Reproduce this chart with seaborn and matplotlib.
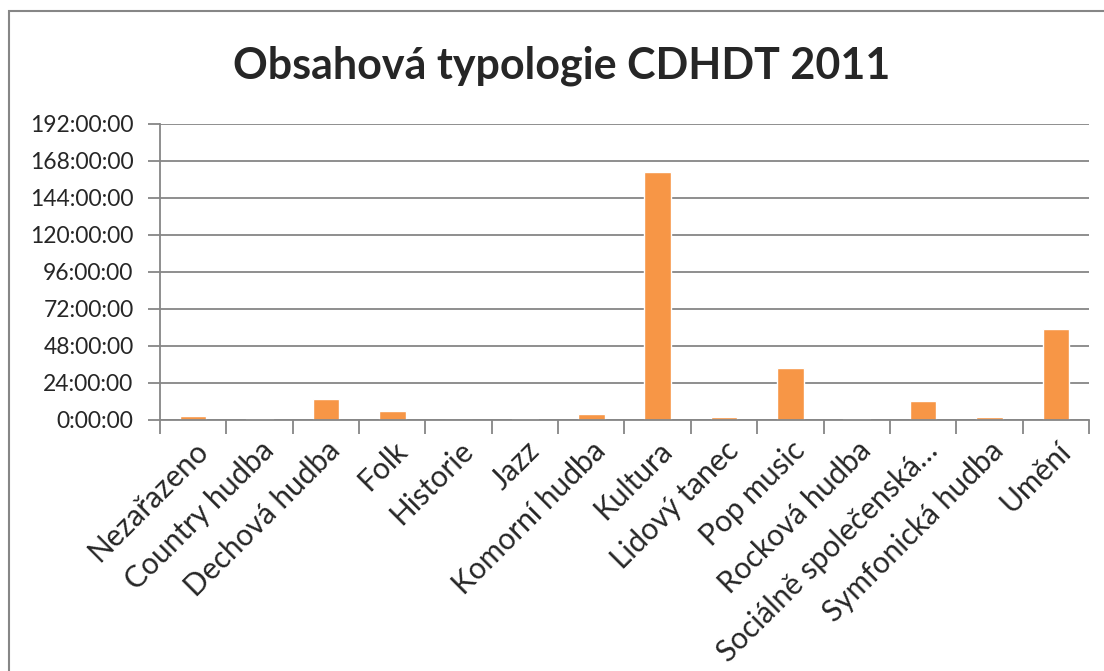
import matplotlib
matplotlib.use("Agg")
import matplotlib.pyplot as plt
import seaborn as sns
import pandas as pd
from matplotlib.ticker import FuncFormatter, FixedLocator
from matplotlib.patches import Rectangle

# ─── Data (hours) ────────────────────────────────────────────────────────────
categories = [
    "Nezařazeno", "Country hudba", "Dechová hudba", "Folk", "Historie",
    "Jazz", "Komorní hudba", "Kultura", "Lidový tanec", "Pop music",
    "Rocková hudba", "Sociálně společenská…", "Symfonická hudba", "Umění",
]
hours = [2.0, 0.6, 13.2, 5.8, 0.0, 0.6, 3.4, 160.8, 1.5, 33.7, 0.6, 11.8, 1.3, 59.0]
y_ticks = [0, 24, 48, 72, 96, 120, 144, 168, 192]

BAR = "#F79646"
GRID = "#868686"

sns.set_theme(style="white")
plt.rcParams["font.family"] = ["Lato", "DejaVu Sans"]

df = pd.DataFrame({"typ": categories, "hodiny": hours})

fig = plt.figure(figsize=(11.04, 6.71), dpi=100)
ax = fig.add_axes([160 / 1104, 1 - 419.5 / 671, (1089 - 160) / 1104, (419.5 - 124) / 671])

sns.barplot(data=df, x="typ", y="hodiny", color=BAR, width=0.4, saturation=1, ax=ax)

ax.set_xlim(-0.5, len(categories) - 0.5)
ax.set_ylim(0, 192)
ax.yaxis.set_major_locator(FixedLocator(y_ticks))
ax.yaxis.set_major_formatter(FuncFormatter(lambda v, p: f"{int(v)}:00:00"))
ax.grid(axis="y", color=GRID, linewidth=1.3)
ax.set_axisbelow(True)

# category boundary ticks
ax.set_xticks([i - 0.5 for i in range(len(categories) + 1)], minor=True)
ax.tick_params(axis="x", which="minor", length=10, width=1.3, color=GRID, bottom=True)
ax.tick_params(axis="x", which="major", length=0, pad=12)
ax.tick_params(axis="y", length=9, width=1.3, color=GRID, left=True, labelsize=16.5, pad=10)
ax.set_xticks(range(len(categories)))
ax.set_xticklabels(categories, rotation=45, ha="right", rotation_mode="anchor", fontsize=21.5)

for s in ["top", "right"]:
    ax.spines[s].set_visible(False)
for s in ["left", "bottom"]:
    ax.spines[s].set_color(GRID)
    ax.spines[s].set_linewidth(1.3)
ax.set_xlabel("")
ax.set_ylabel("")

fig.text(562 / 1104, 1 - 66 / 671, "Obsahová typologie CDHDT 2011",
         ha="center", va="center", fontsize=31, fontweight="bold")

# chart frame, cut off at the right and bottom
fig.patches.append(Rectangle((8.5 / 1104, -0.05), 1.2, 1 - 11.5 / 671 + 0.05,
                             transform=fig.transFigure, fill=False,
                             edgecolor=GRID, linewidth=1.5))

fig.savefig("out.png", dpi=100, facecolor="white")
